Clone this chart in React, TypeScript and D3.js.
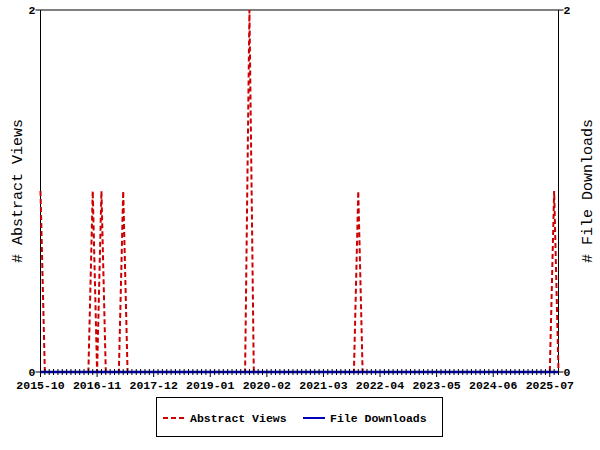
import React from "react";
import * as d3 from "d3";

// Monthly series, 2015-10 .. 2025-09 (one row per calendar year)
const abstractViews: number[] = [
  1, 0, 0, // 2015 Oct-Dec
  0, 0, 0, 0, 0, 0, 0, 0, 0, 1, 0, 1, // 2016
  0, 0, 0, 0, 1, 0, 0, 0, 0, 0, 0, 0, // 2017
  0, 0, 0, 0, 0, 0, 0, 0, 0, 0, 0, 0, // 2018
  0, 0, 0, 0, 0, 0, 0, 0, 0, 2, 0, 0, // 2019
  0, 0, 0, 0, 0, 0, 0, 0, 0, 0, 0, 0, // 2020
  0, 0, 0, 0, 0, 0, 0, 0, 0, 0, 1, 0, // 2021
  0, 0, 0, 0, 0, 0, 0, 0, 0, 0, 0, 0, // 2022
  0, 0, 0, 0, 0, 0, 0, 0, 0, 0, 0, 0, // 2023
  0, 0, 0, 0, 0, 0, 0, 0, 0, 0, 0, 0, // 2024
  0, 0, 0, 0, 0, 0, 0, 1, 0, // 2025 Jan-Sep
];
const fileDownloads: number[] = [
  0, 0, 0,
  0, 0, 0, 0, 0, 0, 0, 0, 0, 0, 0, 0,
  0, 0, 0, 0, 0, 0, 0, 0, 0, 0, 0, 0,
  0, 0, 0, 0, 0, 0, 0, 0, 0, 0, 0, 0,
  0, 0, 0, 0, 0, 0, 0, 0, 0, 0, 0, 0,
  0, 0, 0, 0, 0, 0, 0, 0, 0, 0, 0, 0,
  0, 0, 0, 0, 0, 0, 0, 0, 0, 0, 0, 0,
  0, 0, 0, 0, 0, 0, 0, 0, 0, 0, 0, 0,
  0, 0, 0, 0, 0, 0, 0, 0, 0, 0, 0, 0,
  0, 0, 0, 0, 0, 0, 0, 0, 0, 0, 0, 0,
  0, 0, 0, 0, 0, 0, 0, 0, 0,
];

const tickLabels: string[] = [
  "2015-10", "2016-11", "2017-12", "2019-01", "2020-02",
  "2021-03", "2022-04", "2023-05", "2024-06", "2025-07",
];
const labelStep = 13;
const yTicks: number[] = [0, 2];

const W = 600, H = 450;
const left = 40.5, right = 558.5, top = 10, bottom = 372;
const MONO = "Liberation Mono, Courier New, monospace";

export default function App() {
  const n = abstractViews.length;
  const x = d3.scaleLinear().domain([0, n - 1]).range([left, right]);
  const y = d3.scaleLinear().domain([0, 2]).range([bottom, top]);
  const line = d3.line<number>().x((_, i) => x(i)).y((d) => y(d));
  const idx = d3.range(n);

  return (
    <svg width={W} height={H} style={{ position: "absolute", left: 0, top: 0, background: "#fff" }}>
      {/* frame */}
      <line x1={left} x2={right} y1={top} y2={top} stroke="#000" strokeWidth={1} />
      <line x1={left} x2={left} y1={top} y2={bottom} stroke="#000" strokeWidth={1} />
      <line x1={right} x2={right} y1={top} y2={bottom} stroke="#000" strokeWidth={1} />

      {/* y ticks left/right */}
      {yTicks.map((t) => (
        <g key={t}>
          <line x1={left - 5} x2={left} y1={y(t)} y2={y(t)} stroke="#000" />
          <line x1={right} x2={right + 5} y1={y(t)} y2={y(t)} stroke="#000" />
          <text x={left - 5} y={y(t) + 4} textAnchor="end" fontFamily={MONO} fontWeight="bold" fontSize={11.5}>{t}</text>
          <text x={right + 5} y={y(t) + 4} textAnchor="start" fontFamily={MONO} fontWeight="bold" fontSize={11.5}>{t}</text>
        </g>
      ))}

      {/* data lines */}
      <path d={line(abstractViews) || ""} fill="none" stroke="#cc0000" strokeWidth={2} strokeDasharray="5,3" />
      <path d={line(fileDownloads) || ""} fill="none" stroke="#0000b4" strokeWidth={2.5} />

      {/* x ticks */}
      {idx.map((i) => (
        <line key={i} x1={x(i)} x2={x(i)} y1={bottom - 3} y2={i % labelStep === 0 ? bottom + 5 : bottom + 3} stroke="#000" strokeWidth={1} />
      ))}
      {tickLabels.map((lab, k) => (
        <text key={lab} x={x(k * labelStep)} y={389} textAnchor="middle" fontFamily={MONO} fontWeight="bold" fontSize={11.5}>{lab}</text>
      ))}

      {/* axis titles */}
      <text transform={`translate(22,${(top + bottom) / 2}) rotate(-90)`} textAnchor="middle" fontFamily={MONO} fontSize={15}># Abstract Views</text>
      <text transform={`translate(592,${(top + bottom) / 2}) rotate(-90)`} textAnchor="middle" fontFamily={MONO} fontSize={15}># File Downloads</text>

      {/* legend */}
      <rect x={156.5} y={397.5} width={286} height={39} fill="#fff" stroke="#000" strokeWidth={1} />
      <line x1={163} x2={184} y1={418} y2={418} stroke="#cc0000" strokeWidth={2} strokeDasharray="5,3" />
      <text x={190} y={422} fontFamily={MONO} fontWeight="bold" fontSize={11.5}>Abstract Views</text>
      <line x1={303} x2={325} y1={418} y2={418} stroke="#0000b4" strokeWidth={2} />
      <text x={330} y={422} fontFamily={MONO} fontWeight="bold" fontSize={11.5}>File Downloads</text>
    </svg>
  );
}
